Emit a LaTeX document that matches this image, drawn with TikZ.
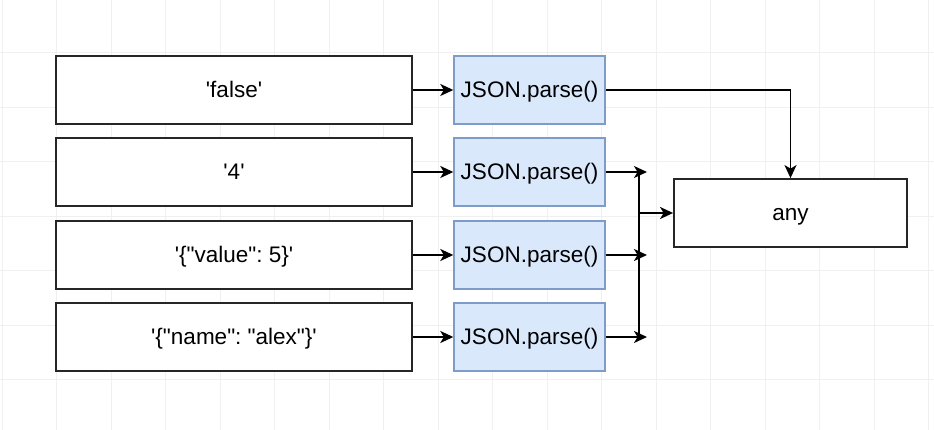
\documentclass[tikz,border=0pt]{standalone}
\usepackage{fontspec}
\setmainfont{Liberation Sans}[Ligatures=TeXOff]
\usetikzlibrary{arrows.meta}
\definecolor{gridc}{HTML}{F0F0F0}
\definecolor{jfill}{HTML}{DAE8FC}
\definecolor{jdraw}{HTML}{7F9CC9}
\frenchspacing
\begin{document}
\begin{tikzpicture}[x=1pt,y=-1pt,
  txt/.style={inner sep=0pt,text height=16pt,text depth=0.4pt,font=\fontsize{22.5}{26}\selectfont\frenchspacing},
  plain/.style={txt,draw=black!85,line width=1.8pt,fill=white,minimum width=356pt,minimum height=68pt},
  jbox/.style={txt,draw=jdraw,line width=1.4pt,fill=jfill,minimum width=151pt,minimum height=68pt},
  anyb/.style={txt,draw=black!85,line width=1.8pt,fill=white,minimum width=233pt,minimum height=68pt},
  conn/.style={draw=black,line width=1.8pt},
  arr/.style={conn,-{Stealth[length=13pt,width=12pt,inset=3.5pt]}}]
\fill[white] (0,0) rectangle (934,430);
\useasboundingbox (0,0) rectangle (934,430);
\foreach \i in {0,...,17} {\draw[gridc,line width=0.8pt] (2+\i*54.5,0) -- (2+\i*54.5,430);}
\foreach \i in {0,...,8} {\draw[gridc,line width=0.8pt] (0,-2+\i*54.5) -- (934,-2+\i*54.5);}
\node[plain] (s1) at (234,90) {'false'};
\node[plain] (s2) at (234,172) {'4'};
\node[plain] (s3) at (234,255) {'\{"value": 5\}'};
\node[plain] (s4) at (234,337) {'\{"name": "alex"\}'};
\node[jbox] (j1) at (529.5,90) {JSON.parse()};
\node[jbox] (j2) at (529.5,172) {JSON.parse()};
\node[jbox] (j3) at (529.5,255) {JSON.parse()};
\node[jbox] (j4) at (529.5,337) {JSON.parse()};
\node[anyb] (any) at (790.5,213) {any};
\coordinate (m2) at (647,172);
\coordinate (m3) at (647,255);
\coordinate (m4) at (647,337);
\coordinate (vt) at (639,172);
\coordinate (vb) at (639,337);
\coordinate (vm) at (639,213);
\foreach \k in {1,2,3,4} {\draw[arr] (s\k) -- (j\k);}
\draw[arr] (j1.east) -| (any.north);
\draw[arr] (j2.east) -- (m2);
\draw[arr] (j3.east) -- (m3);
\draw[arr] (j4.east) -- (m4);
\draw[conn] (vt) -- (vb);
\draw[arr] (vm) -- (any.west);
\end{tikzpicture}
\end{document}
